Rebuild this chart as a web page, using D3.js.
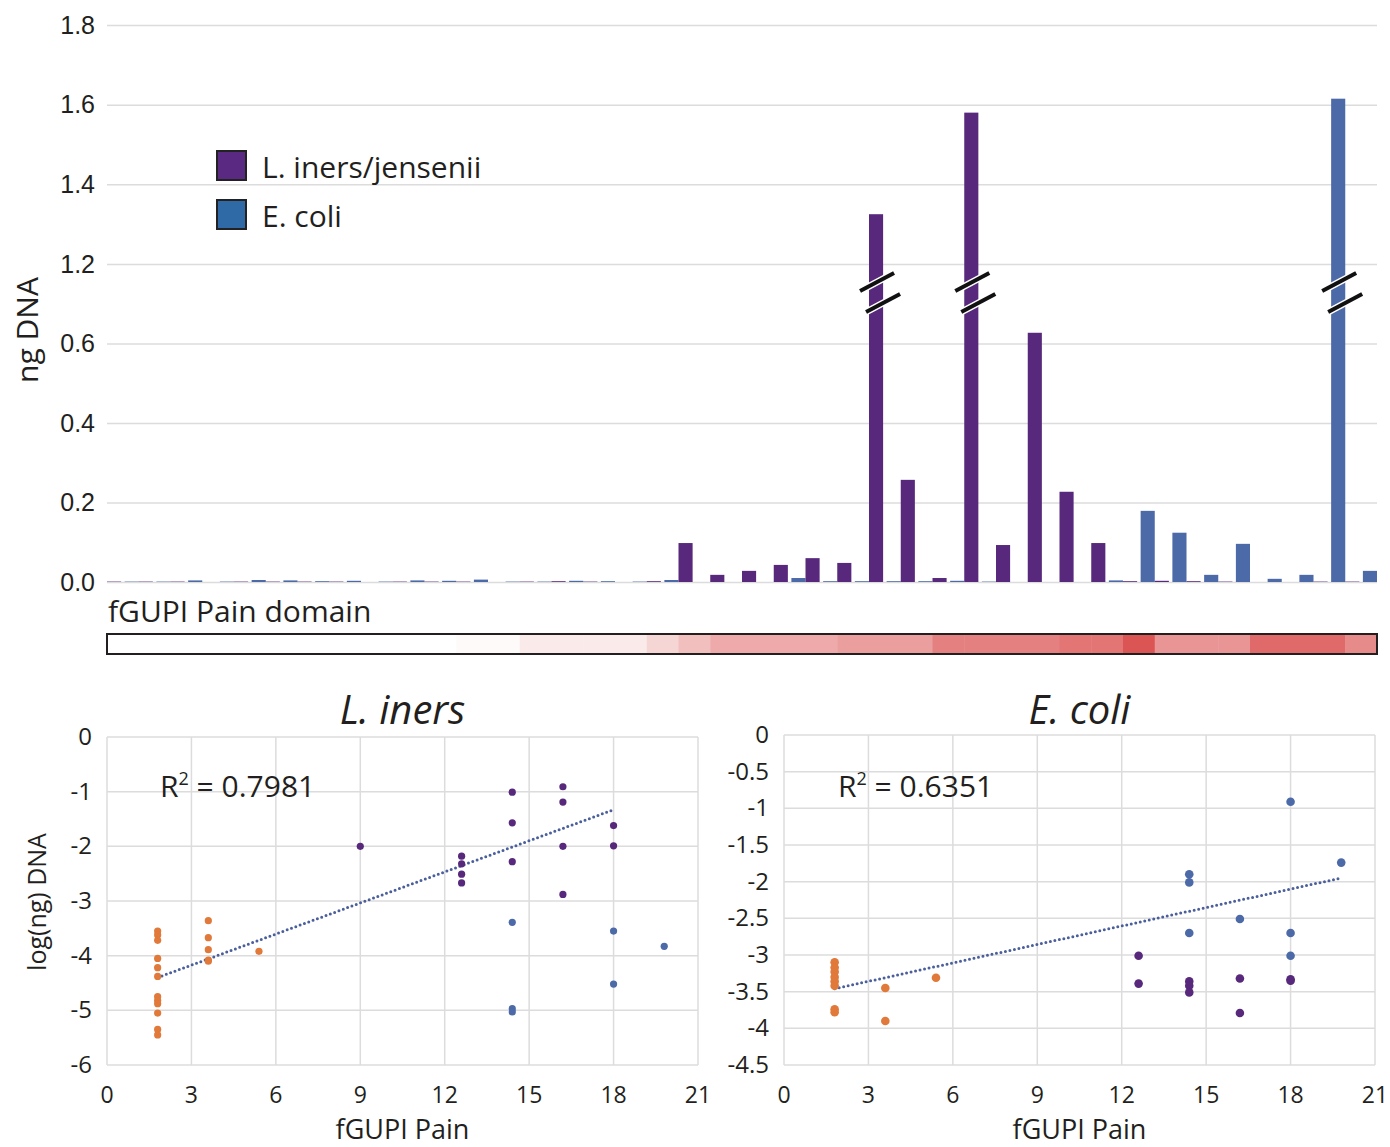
<!DOCTYPE html>
<html>
<head>
<meta charset="utf-8">
<script src="https://cdn.jsdelivr.net/npm/d3@7"></script>
<style>
  body { margin: 0; background: #fff; }
  svg { display: block; font-family: "Open Sans", "Noto Sans", sans-serif; }
</style>
</head>
<body>
<svg id="chart" width="1390" height="1147"></svg>
<script>
// ---- data ----
var sampleIds = d3.range(1, 41).map(function(d){ return "S" + d; });

// ng DNA per sample, L. iners/jensenii and E. coli
var inersNg = [0.001, 0.001, 0.001, 0.000, 0.001, 0.001, 0.001, 0.001, 0.000, 0.001,
               0.001, 0.001, 0.000, 0.001, 0.002, 0.001, 0.000, 0.002, 0.098, 0.018,
               0.028, 0.043, 0.060, 0.048, 1.325, 0.257, 0.010, 1.580, 0.093, 0.627,
               0.227, 0.098, 0.002, 0.003, 0.002, 0.001, 0.000, 0.000, 0.001, 0.001];
var ecoliNg = [0.001, 0.001, 0.004, 0.001, 0.005, 0.004, 0.002, 0.003, 0.001, 0.004,
               0.003, 0.006, 0.001, 0.001, 0.003, 0.002, 0.001, 0.005, 0.000, 0.000,
               0.000, 0.010, 0.002, 0.002, 0.002, 0.002, 0.003, 0.001, 0.000, 0.000,
               0.000, 0.004, 0.179, 0.124, 0.018, 0.096, 0.008, 0.018, 1.615, 0.028];
// fGUPI pain domain per sample (heat strip)
var painScores = [1.8, 1.8, 1.8, 1.8, 1.8, 1.8, 1.8, 1.8, 1.8, 1.8,
                  1.8, 2.2, 2.2, 3.6, 3.6, 3.6, 3.6, 5.4, 7.2, 9.0,
                  9.0, 9.0, 9.0, 10.0, 10.0, 10.0, 12.6, 12.6, 12.6, 12.6,
                  13.5, 13.5, 16.2, 10.8, 10.8, 10.8, 14.4, 14.4, 14.4, 11.7];

var yTickValues = [0, 0.2, 0.4, 0.6, 1.2, 1.4, 1.6, 1.8];
var seriesNames = ["L. iners/jensenii", "E. coli"];

// scatter: [fGUPI pain, log(ng) DNA]
var inersOrange = [[1.8,-3.55],[1.8,-3.62],[1.8,-3.72],[1.8,-4.05],[1.8,-4.22],[1.8,-4.38],
                   [1.8,-4.75],[1.8,-4.82],[1.8,-4.88],[1.8,-5.05],[1.8,-5.35],[1.8,-5.45],
                   [3.6,-3.36],[3.6,-3.67],[3.6,-3.89],[3.6,-4.08],[3.6,-4.10],[5.4,-3.92]];
var inersPurple = [[9,-2.0],[12.6,-2.18],[12.6,-2.32],[12.6,-2.51],[12.6,-2.67],
                   [14.4,-1.01],[14.4,-1.57],[14.4,-2.28],
                   [16.2,-0.91],[16.2,-1.19],[16.2,-2.0],[16.2,-2.88],
                   [18,-1.62],[18,-1.99]];
var inersBlue = [[14.4,-3.39],[14.4,-4.97],[14.4,-5.03],[18,-3.55],[18,-4.52],[19.8,-3.83]];
var inersTrend = [[1.8,-4.40],[18,-1.33]];

var ecoliOrange = [[1.8,-3.10],[1.8,-3.17],[1.8,-3.23],[1.8,-3.30],[1.8,-3.36],[1.8,-3.42],
                   [1.8,-3.74],[1.8,-3.78],[3.6,-3.45],[3.6,-3.90],[5.4,-3.31]];
var ecoliPurple = [[12.6,-3.01],[12.6,-3.39],[14.4,-3.36],[14.4,-3.42],[14.4,-3.51],
                   [16.2,-3.32],[16.2,-3.79],[18,-3.33],[18,-3.35]];
var ecoliBlue = [[14.4,-1.90],[14.4,-2.01],[14.4,-2.70],[16.2,-2.51],
                 [18,-0.91],[18,-2.70],[18,-3.01],[19.8,-1.74]];
var ecoliTrend = [[1.8,-3.46],[19.8,-1.95]];

var xTickValues = [0, 3, 6, 9, 12, 15, 18, 21];

// ---- colours ----
var PURPLE = "#57287b";
var BLUE = "#4c69a8";
var ORANGE = "#e0793a";
var GRID = "#dcdcdc";
var TEXT = "#231f20";

var svg = d3.select("#chart");

// ================= top bar chart =================
(function(){
    var left = 107, right = 1377;

    // broken axis: 0.6 .. 1.2 squeezed into one step
    var y = d3.scaleLinear().domain([0, 0.8, 1.2, 1.8]).range([582, 264, 264, 25]);
    var x0 = d3.scaleBand().domain(sampleIds).range([left, right]).paddingInner(0).paddingOuter(0);
    var x1 = d3.scaleBand().domain(["iners", "ecoli"]).range([0, x0.bandwidth()]).paddingInner(0.2);

    var gAxis = svg.append("g").attr("transform", "translate(" + left + ",0)")
        .call(d3.axisLeft(y).tickValues(yTickValues).tickFormat(d3.format(".1f"))
            .tickSize(-(right - left)).tickPadding(12));
    gAxis.select(".domain").remove();
    gAxis.selectAll(".tick line").attr("stroke", GRID).attr("stroke-width", 1.5);
    gAxis.selectAll(".tick text").attr("fill", TEXT).style("font-size", "25px");

    var rows = sampleIds.map(function(id, i){
        return { id: id, iners: inersNg[i], ecoli: ecoliNg[i] };
    });

    var groups = svg.append("g").selectAll("g").data(rows).enter().append("g")
        .attr("transform", function(d){ return "translate(" + x0(d.id) + ",0)"; });

    groups.selectAll("rect").data(function(d){
        return [{ key: "iners", v: d.iners }, { key: "ecoli", v: d.ecoli }];
    }).enter().append("rect")
        .attr("x", function(d){ return x1(d.key); })
        .attr("width", x1.bandwidth())
        .attr("y", function(d){ return y(d.v); })
        .attr("height", function(d){ return Math.max(0, y(0) - y(d.v)); })
        .attr("fill", function(d){ return d.key === "iners" ? PURPLE : BLUE; });

    // break marks on bars beyond the axis gap
    groups.each(function(d){
        var g = d3.select(this);
        [{ key: "iners", v: d.iners }, { key: "ecoli", v: d.ecoli }].forEach(function(b){
            if (b.v <= 0.8) return;
            var cx = x1(b.key) + x1.bandwidth() / 2;
            var yb = y(1.2);
            [[-16, 27, 18, 9], [-10, 48, 24, 30]].forEach(function(s){
                g.append("line")
                    .attr("x1", cx + s[0]).attr("y1", yb + s[1])
                    .attr("x2", cx + s[2]).attr("y2", yb + s[3])
                    .attr("stroke", "#fff").attr("stroke-width", 7);
                g.append("line")
                    .attr("x1", cx + s[0]).attr("y1", yb + s[1])
                    .attr("x2", cx + s[2]).attr("y2", yb + s[3])
                    .attr("stroke", "#111").attr("stroke-width", 4);
            });
        });
    });

    svg.append("text")
        .attr("transform", "translate(38,330) rotate(-90)")
        .attr("text-anchor", "middle")
        .attr("fill", TEXT).style("font-size", "30px")
        .text("ng DNA");

    // legend
    var legend = svg.append("g").attr("transform", "translate(217,151)");
    var legendColors = ["#5a2a82", "#2f6aa6"];
    seriesNames.forEach(function(name, i){
        legend.append("rect")
            .attr("x", 0).attr("y", i * 49)
            .attr("width", 29).attr("height", 29)
            .attr("fill", legendColors[i]).attr("stroke", "#222").attr("stroke-width", 2);
        legend.append("text")
            .attr("x", 45).attr("y", i * 49 + 27)
            .attr("fill", TEXT).style("font-size", "30px")
            .text(name);
    });

    // pain heat strip
    svg.append("text").attr("x", 108).attr("y", 622)
        .attr("fill", TEXT).style("font-size", "30px")
        .text("fGUPI Pain domain");

    var heat = d3.scaleLinear().domain([1.8, 16.2]).range(["#ffffff", "#dc5555"]);
    svg.append("g").selectAll("rect").data(sampleIds).enter().append("rect")
        .attr("x", function(d){ return x0(d); })
        .attr("width", x0.bandwidth() + 0.5)
        .attr("y", 634).attr("height", 20)
        .attr("fill", function(d, i){ return heat(painScores[i]); });
    svg.append("rect").attr("x", left).attr("y", 634)
        .attr("width", right - left).attr("height", 20)
        .attr("fill", "none").attr("stroke", "#231f20").attr("stroke-width", 2);
})();

// ================= scatter plots =================
function drawScatter(o){
    var x = d3.scaleLinear().domain([0, 21]).range([o.left, o.right]);
    var y = d3.scaleLinear().domain(o.yDomain).range([o.bottom, o.top]);
    var g = svg.append("g");

    // grid
    g.selectAll("line.vg").data(xTickValues).enter().append("line")
        .attr("x1", function(d){ return x(d); }).attr("x2", function(d){ return x(d); })
        .attr("y1", o.top).attr("y2", o.bottom)
        .attr("stroke", GRID).attr("stroke-width", 1.5);
    g.selectAll("line.hg").data(o.yTicks).enter().append("line")
        .attr("x1", o.left).attr("x2", o.right)
        .attr("y1", function(d){ return y(d); }).attr("y2", function(d){ return y(d); })
        .attr("stroke", GRID).attr("stroke-width", 1.5);

    // tick labels
    g.selectAll("text.xt").data(xTickValues).enter().append("text")
        .attr("x", function(d){ return x(d); }).attr("y", o.bottom + 38)
        .attr("text-anchor", "middle").attr("fill", TEXT).style("font-size", "23px")
        .text(function(d){ return d; });
    g.selectAll("text.yt").data(o.yTicks).enter().append("text")
        .attr("x", o.left - 15).attr("y", function(d){ return y(d) + 8; })
        .attr("text-anchor", "end").attr("fill", TEXT).style("font-size", "24px")
        .text(function(d){ return d; });

    // trend line
    g.append("path").datum(o.trend)
        .attr("d", d3.line().x(function(d){ return x(d[0]); }).y(function(d){ return y(d[1]); }))
        .attr("fill", "none").attr("stroke", "#4a5f9c").attr("stroke-width", 3)
        .attr("stroke-linecap", "round").attr("stroke-dasharray", "0,4.6");

    // points
    o.groups.forEach(function(grp){
        g.selectAll(null).data(grp.data).enter().append("circle")
            .attr("cx", function(d){ return x(d[0]); })
            .attr("cy", function(d){ return y(d[1]); })
            .attr("r", o.r).attr("fill", grp.color);
    });

    // titles and labels
    g.append("text").attr("x", (o.left + o.right) / 2).attr("y", 724)
        .attr("text-anchor", "middle").attr("fill", TEXT)
        .style("font-size", "40px").style("font-style", "italic")
        .text(o.title);
    var r2 = g.append("text").attr("x", o.r2x).attr("y", 797)
        .attr("fill", TEXT).style("font-size", "30px");
    r2.append("tspan").text("R");
    r2.append("tspan").attr("dy", -12).style("font-size", "18px").text("2");
    r2.append("tspan").attr("dy", 12).text(" = " + o.r2);
    g.append("text").attr("x", (o.left + o.right) / 2).attr("y", 1139)
        .attr("text-anchor", "middle").attr("fill", TEXT).style("font-size", "27px")
        .text("fGUPI Pain");
}

drawScatter({
    left: 107, right: 698, top: 737, bottom: 1065,
    yDomain: [-6, 0], yTicks: [0, -1, -2, -3, -4, -5, -6],
    trend: inersTrend, r: 3.6, title: "L. iners", r2: "0.7981", r2x: 160,
    groups: [{ data: inersOrange, color: ORANGE }, { data: inersPurple, color: PURPLE },
             { data: inersBlue, color: BLUE }]
});
drawScatter({
    left: 784, right: 1375, top: 735, bottom: 1065,
    yDomain: [-4.5, 0], yTicks: [0, -0.5, -1, -1.5, -2, -2.5, -3, -3.5, -4, -4.5],
    trend: ecoliTrend, r: 4.3, title: "E. coli", r2: "0.6351", r2x: 838,
    groups: [{ data: ecoliOrange, color: ORANGE }, { data: ecoliPurple, color: PURPLE },
             { data: ecoliBlue, color: BLUE }]
});

svg.append("text")
    .attr("transform", "translate(46,902) rotate(-90)")
    .attr("text-anchor", "middle").attr("fill", TEXT).style("font-size", "25px")
    .text("log(ng) DNA");
</script>
</body>
</html>
